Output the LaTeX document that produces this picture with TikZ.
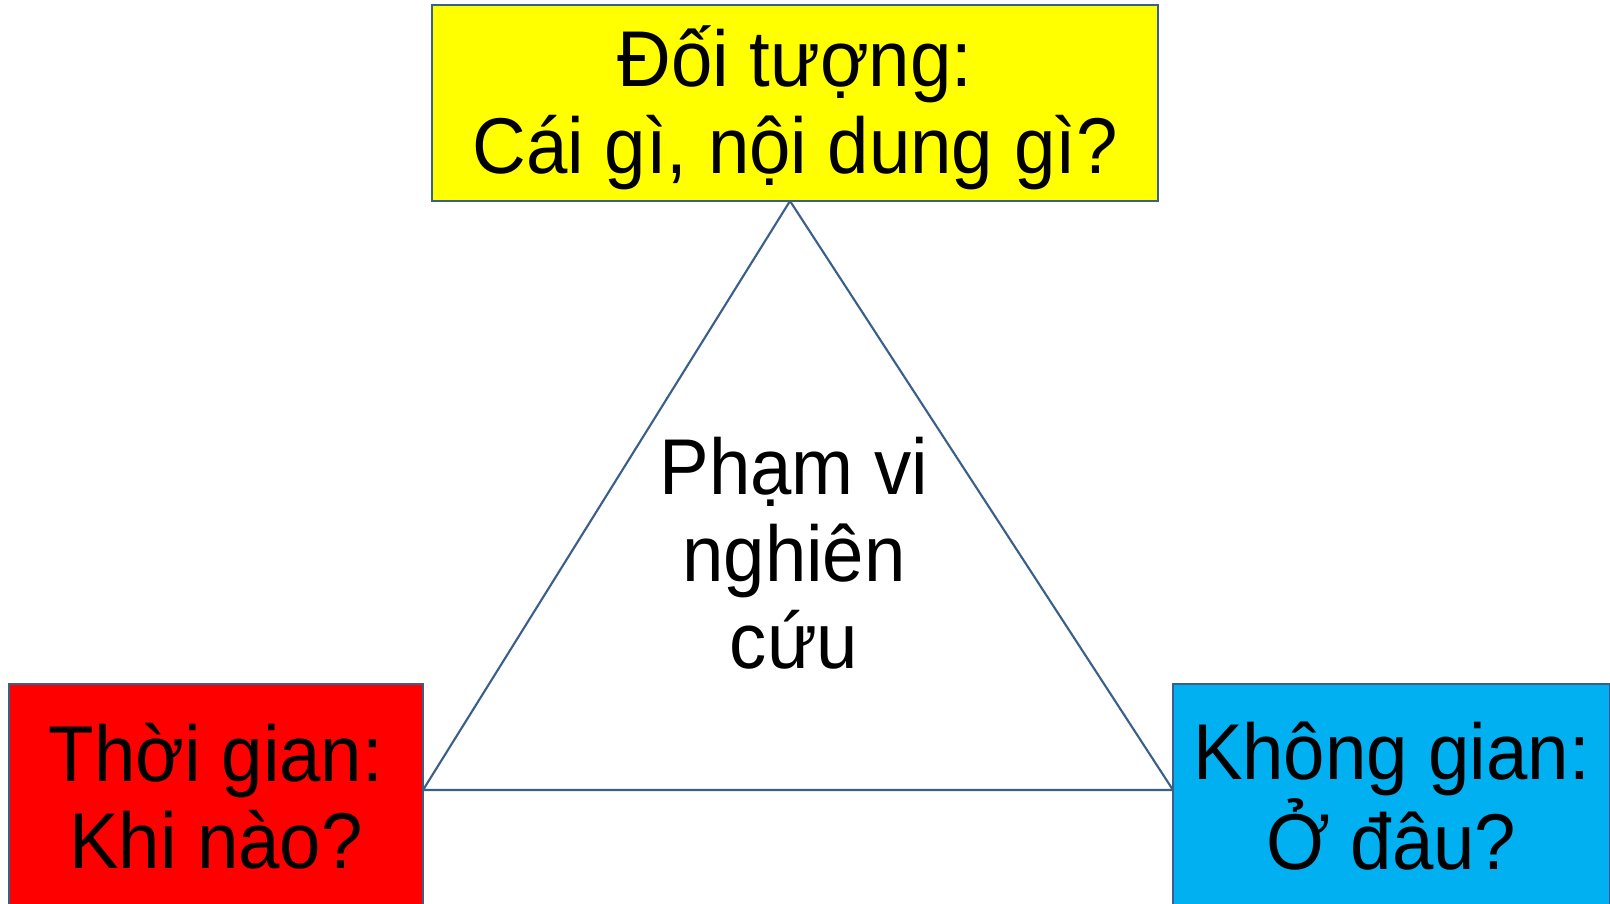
\documentclass[tikz,border=0pt]{standalone}
\usepackage{fontspec}
\setmainfont{Liberation Sans}[FakeStretch=0.94]
\definecolor{edgeblue}{HTML}{3A5F8B}
\definecolor{boxyellow}{HTML}{FFFF00}
\definecolor{boxred}{HTML}{FF0000}
\definecolor{boxcyan}{HTML}{00B0F0}
\begin{document}
\begin{tikzpicture}[x=0.01cm,y=-0.01cm,
  box/.style={draw=edgeblue,line width=0.6pt,inner sep=0pt,align=center,
    font=\fontsize{22.5}{24.75}\selectfont},
  edge/.style={draw=edgeblue,line width=0.6pt},
  label/.style={inner sep=0pt,align=center,font=\fontsize{22.5}{24.75}\selectfont}]
\useasboundingbox (0,0) rectangle (1610,903);
\fill[white] (0,0) rectangle (1610,903);
\coordinate (A) at (790,201);
\coordinate (B) at (423,790);
\coordinate (C) at (1173,790);
\draw[edge,line join=miter] (A) -- (B) -- (C) -- cycle;
\node[box,fill=boxyellow,minimum width=7.26cm,minimum height=1.96cm] (top) at (795,103) {};
\node[label] (toptext) at (795,108) {Đối tượng:\\Cái gì, nội dung gì?};
\node[box,fill=boxred,minimum width=4.14cm,minimum height=2.24cm] (left) at (216,796) {Thời gian:\\Khi nào?};
\node[box,fill=boxcyan,minimum width=4.37cm,minimum height=2.24cm] (right) at (1391.5,796) {Không gian:\\Ở đâu?};
\node[label] (mid) at (794,553) {Phạm vi\\nghiên\\cứu};
\end{tikzpicture}
\end{document}
